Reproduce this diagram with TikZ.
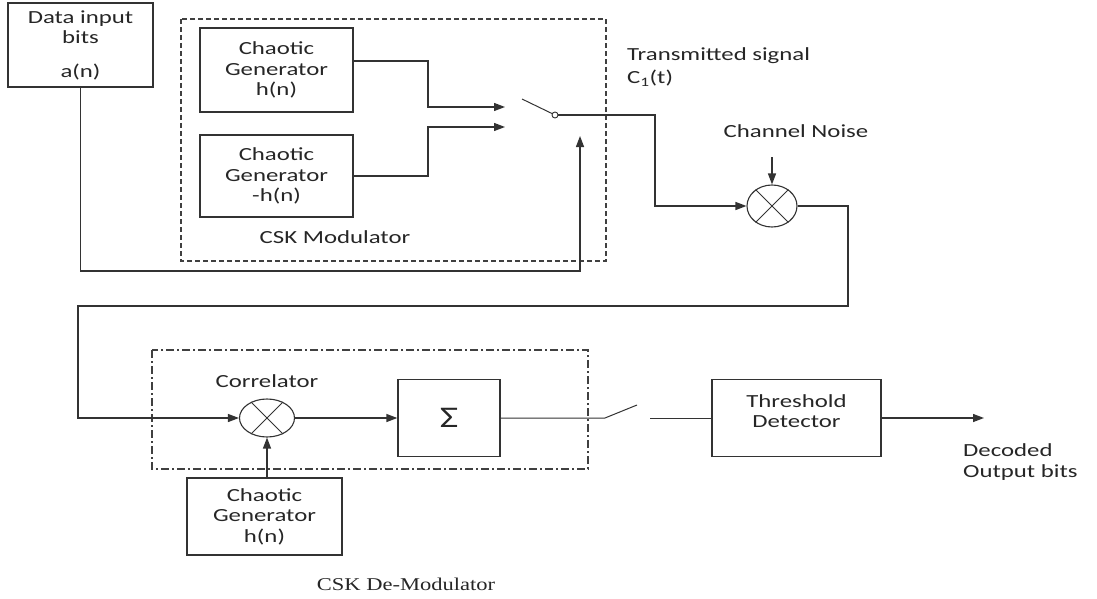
\documentclass[tikz,border=0pt]{standalone}
\usepackage{fontspec}
\setmainfont{Carlito}[FakeStretch=1.34]
\newfontfamily\demodfont{Liberation Serif}[FakeStretch=1.25]
\usetikzlibrary{arrows.meta,shapes.geometric}
\begin{document}
\begin{tikzpicture}[x=1pt,y=-1pt,
  every node/.style={font=\fontsize{18.5}{20.5}\selectfont, text=black!85, inner sep=0pt},
  blk/.style={draw=black!80, line width=1.3pt, align=center},
  wire/.style={draw=black!80, line width=1.3pt},
  arr/.style={wire, -{Triangle[length=11pt,width=8pt]}},
  mult/.style={ellipse, draw=black!80, line width=1.1pt},
  modbox/.style={draw=black!75, line width=1.2pt, dash pattern=on 5pt off 3pt},
  demodbox/.style={draw=black!75, line width=1.2pt, dash pattern=on 8pt off 3pt on 2pt off 3pt},
  lbl/.style={align=center}
]
\useasboundingbox (0,0) rectangle (1097,599);

% group boxes
\draw[modbox] (181,19) rectangle (606,261);
\draw[demodbox] (152,350) rectangle (588,469);

% blocks
\node[blk, minimum width=145pt, minimum height=84pt] (d) at (80.5,45) {Data input\\bits\\[13pt]a(n)};
\node[blk, minimum width=153pt, minimum height=84pt] (g1) at (276.5,70) {Chaotic\\Generator\\h(n)};
\node[blk, minimum width=153pt, minimum height=82pt] (g2) at (276.5,176) {Chaotic\\Generator\\-h(n)};
\node[lbl] (modl) at (335,237) {CSK Modulator};

% switch (top)
\coordinate (in1) at (505,107);
\coordinate (in2) at (505,127);
\coordinate (sw1) at (522,99);
\node[circle, draw=black!80, line width=0.9pt, minimum size=6pt] (sw) at (555,115) {};
\coordinate (ctl) at (580,136);
\coordinate (ctlb) at (580,271);
\coordinate (k) at (655,206);

\draw[arr] (g1.east |- {(0,61)}) -| (428,107) -- (in1);
\draw[arr] (g2.east) -| (428,127) -- (in2);
\draw[wire, line width=1pt] (sw1) -- (sw);
\draw[arr] (d.south) |- (ctlb) -- (ctl);

% channel
\node[mult, minimum width=50pt, minimum height=42pt] (m) at (772,206) {};
\draw[wire, line width=1pt] (m.45) -- (m.225) (m.135) -- (m.315);
\draw[arr] (sw.east) -| (k) -- (m.west);
\coordinate (nz) at (772,157);
\draw[arr] (nz) -- (m.north);
\node[anchor=west] (tx1) at (627,56) {Transmitted signal};
\node[anchor=west] (tx2) at (627,78) {C\textsubscript{1}(t)};
\node[lbl] (cn) at (796,131) {Channel Noise};

% demodulator
\node[mult, minimum width=55pt, minimum height=38pt] (c) at (267,418) {};
\draw[wire, line width=1pt] (c.45) -- (c.225) (c.135) -- (c.315);
\node[lbl] (corl) at (267,381) {Correlator};
\node[blk, minimum width=102pt, minimum height=77pt, font=\fontsize{30}{30}\selectfont] (sig) at (449,418) {Σ};
\node[blk, minimum width=155pt, minimum height=77pt] (g3) at (264.5,516.5) {Chaotic\\Generator\\h(n)};
\node[blk, minimum width=169pt, minimum height=77pt] (thr) at (796.5,418) {};
\node[lbl] (thrt) at (796.5,411) {Threshold\\Detector};

\coordinate (j1) at (848,306);
\coordinate (j2) at (78,418);
\draw[arr] (m.east) -| (j1) -| (j2) -- (c.west);
\draw[arr] (c.east) -- (sig.west);
\draw[arr] (c.south |- g3.north) -- (c.south);

% sampling switch
\coordinate (s1) at (605,418);
\coordinate (s2) at (637,405);
\coordinate (s3) at (650,418);
\draw[wire, line width=1pt] (sig.east) -- (s1) -- (s2);
\draw[wire, line width=1pt] (s3) -- (thr.west);

\coordinate (out) at (984,418);
\draw[arr] (thr.east) -- (out);
\node[anchor=west, align=left] (dec) at (963,462) {Decoded\\Output bits};

\node (demodl) at (406,584) {\demodfont\fontsize{18}{20}\selectfont CSK De-Modulator};
\end{tikzpicture}
\end{document}
